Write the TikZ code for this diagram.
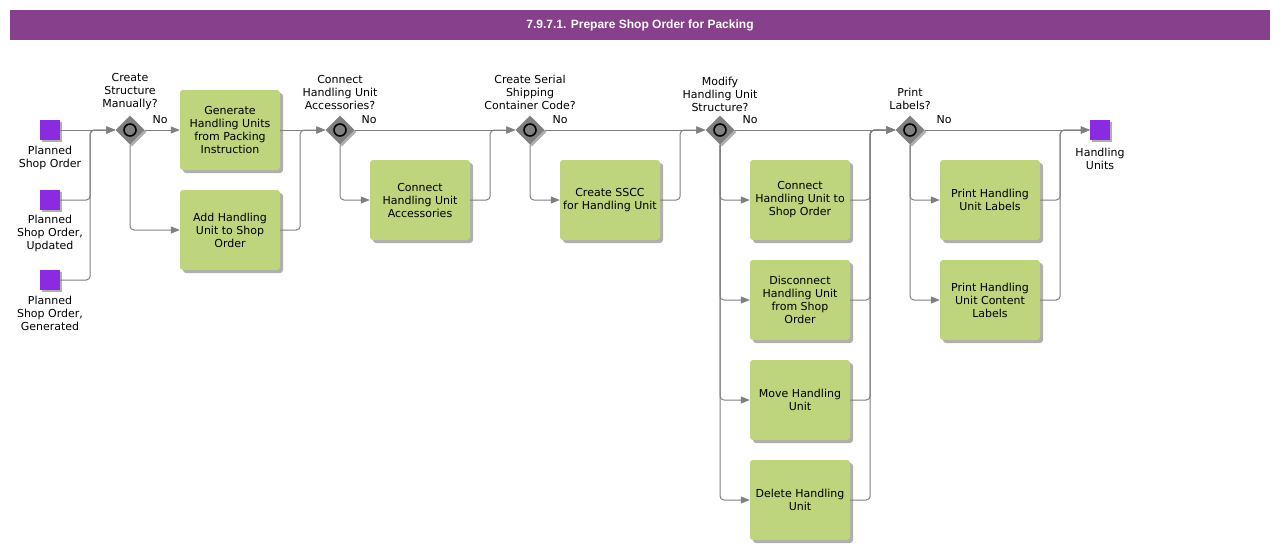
\documentclass[tikz,border=0pt]{standalone}
\usepackage{fontspec}
\setmainfont{DejaVu Sans}
\newfontfamily\titlefont{Liberation Sans}
\usetikzlibrary{shapes.geometric,arrows.meta,shadows}
\definecolor{titlebg}{RGB}{135,64,140}
\definecolor{taskgreen}{RGB}{190,212,125}
\definecolor{evpurple}{RGB}{138,43,226}
\definecolor{linegray}{RGB}{128,128,128}
\definecolor{gwgray}{RGB}{128,128,128}
\definecolor{shadowgray}{RGB}{175,175,175}
\begin{document}
\begin{tikzpicture}[x=1pt,y=-1pt,
  txt/.style={font=\fontsize{11}{13}\selectfont, align=center, inner sep=0pt},
  task/.style={txt, rectangle, rounded corners=3pt, fill=taskgreen, minimum width=100pt, minimum height=80pt,
    drop shadow={shadow xshift=3pt, shadow yshift=-3pt, fill=shadowgray, opacity=1}},
  event/.style={rectangle, fill=evpurple, minimum size=20pt, inner sep=0pt,
    drop shadow={shadow xshift=2pt, shadow yshift=-2pt, fill=shadowgray, opacity=1}},
  gate/.style={diamond, fill=gwgray, minimum width=29pt, minimum height=29pt, inner sep=0pt,
    drop shadow={shadow xshift=2pt, shadow yshift=-2pt, fill=shadowgray, opacity=1}},
  gring/.style={circle, draw=black, fill=gwgray, line width=1.6pt, minimum size=12pt, inner sep=0pt},
  lbl/.style={txt},
  flow/.style={draw=linegray, line width=1pt, rounded corners=4pt,
    -{Triangle[length=9pt,width=7pt,fill=linegray]}}
]
\useasboundingbox (0,0) rectangle (1280,550);
\node[fill=titlebg, minimum width=1260pt, minimum height=30pt, inner sep=0pt, text=white,
  font=\titlefont\bfseries\fontsize{12}{14}\selectfont] (title) at (640,25) {7.9.7.1. Prepare Shop Order for Packing};

% events
\node[event] (s1) at (50,130) {};
\node[event] (s2) at (50,200) {};
\node[event] (s3) at (50,280) {};
\node[event] (e1) at (1100,130) {};
\node[lbl, anchor=north] (s1l) at (50,146) {Planned\\Shop Order};
\node[lbl, anchor=north] (s2l) at (50,215) {Planned\\Shop Order,\\Updated};
\node[lbl, anchor=north] (s3l) at (50,296) {Planned\\Shop Order,\\Generated};
\node[lbl, anchor=north] (e1l) at (1100,148) {Handling\\Units};

% gateways
\foreach \n/\x in {g1/130,g2/340,g3/530,g4/720,g5/910}{
  \node[gate] (\n) at (\x,130) {};
  \node[gring] (\n r) at (\x,130) {};
}
\node[lbl, anchor=south] (g1l) at (130,110) {Create\\Structure\\Manually?};
\node[lbl, anchor=south] (g2l) at (340,110) {Connect\\Handling Unit\\Accessories?};
\node[lbl, anchor=south] (g3l) at (530,110) {Create Serial\\Shipping\\Container Code?};
\node[lbl, anchor=south] (g4l) at (720,112) {Modify\\Handling Unit\\Structure?};
\node[lbl, anchor=south] (g5l) at (910,110) {Print\\Labels?};
\foreach \n/\x in {n1/160,n2/369,n3/560,n4/750,n5/944}{
  \node[lbl] (\n) at (\x,120) {No};
}

% tasks
\node[task] (t1) at (230,130) {Generate\\Handling Units\\from Packing\\Instruction};
\node[task] (t2) at (230,230) {Add Handling\\Unit to Shop\\Order};
\node[task] (t3) at (420,200) {Connect\\Handling Unit\\Accessories};
\node[task] (t4) at (610,200) {Create SSCC\\for Handling Unit};
\node[task] (t5) at (800,200) {Connect\\Handling Unit to\\Shop Order};
\node[task] (t6) at (800,300) {Disconnect\\Handling Unit\\from Shop\\Order};
\node[task] (t7) at (800,400) {Move Handling\\Unit};
\node[task] (t8) at (800,500) {Delete Handling\\Unit};
\node[task] (t9) at (990,200) {Print Handling\\Unit Labels};
\node[task] (t10) at (990,300) {Print Handling\\Unit Content\\Labels};

% flows
\draw[flow] (s1.east) -- (g1.west);
\draw[flow] (s2.east) -- ++(30,0) |- (g1.west);
\draw[flow] (s3.east) -- ++(30,0) |- (g1.west);
\draw[flow] (g1.east) -- (t1.west);
\draw[flow] (g1.south) |- (t2.west);
\draw[flow] (t1.east) -- (g2.west);
\draw[flow] (t2.east) -- ++(20,0) |- (g2.west);
\draw[flow] (g2.east) -- (g3.west);
\draw[flow] (g2.south) |- (t3.west);
\draw[flow] (t3.east) -- ++(20,0) |- (g3.west);
\draw[flow] (g3.east) -- (g4.west);
\draw[flow] (g3.south) |- (t4.west);
\draw[flow] (t4.east) -- ++(20,0) |- (g4.west);
\draw[flow] (g4.east) -- (g5.west);
\foreach \t in {t5,t6,t7,t8}{
  \draw[flow] (g4.south) |- (\t.west);
  \draw[flow] (\t.east) -- ++(20,0) |- (g5.west);
}
\draw[flow] (g5.east) -- (e1.west);
\foreach \t in {t9,t10}{
  \draw[flow] (g5.south) |- (\t.west);
  \draw[flow] (\t.east) -- ++(20,0) |- (e1.west);
}
\end{tikzpicture}
\end{document}
